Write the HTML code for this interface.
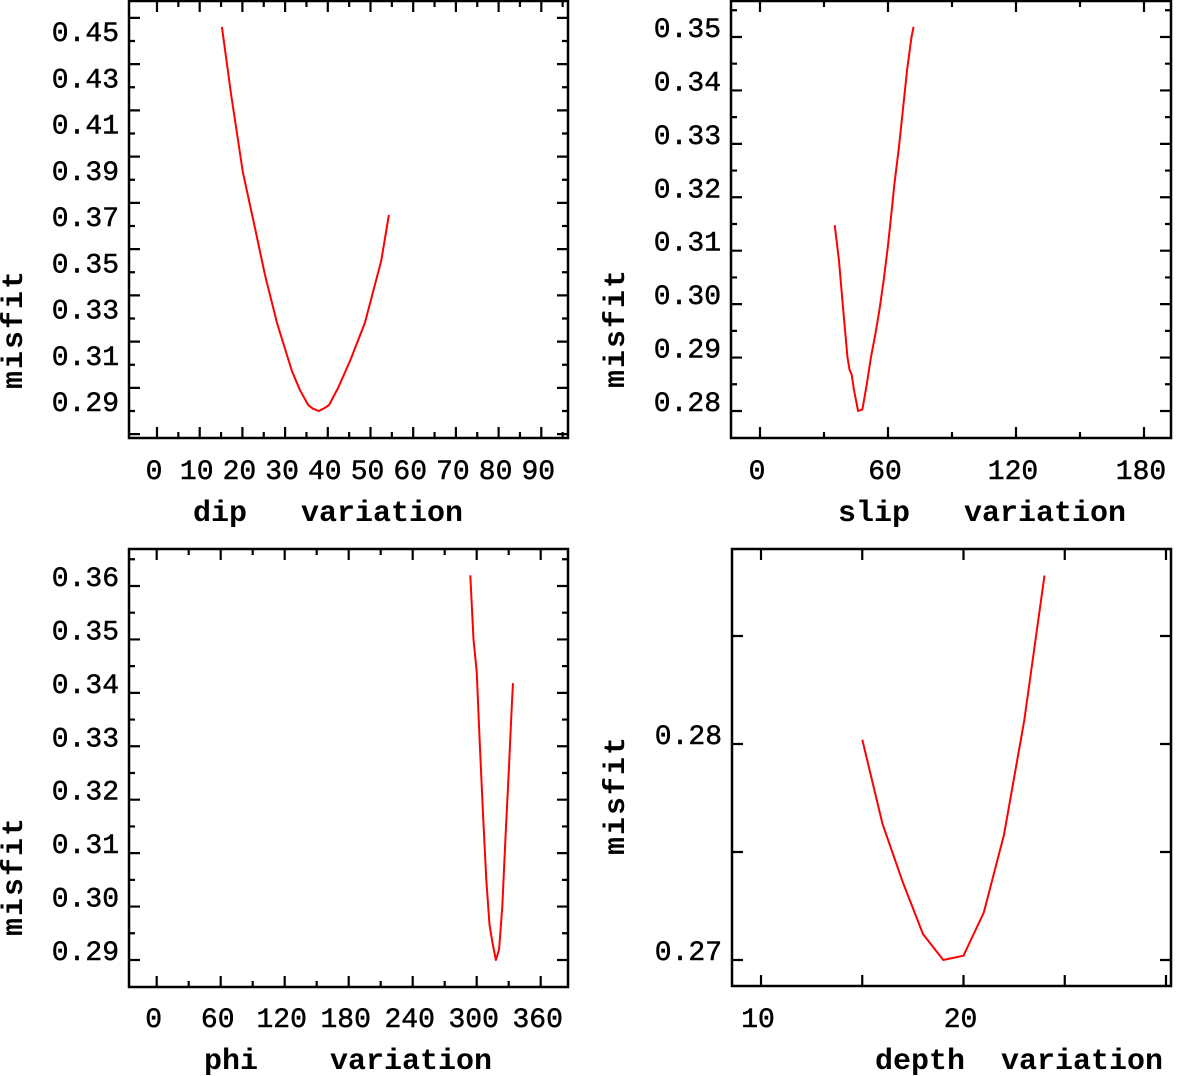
<!DOCTYPE html>
<html><head><meta charset="utf-8"><style>
body{margin:0;background:#fff;}
svg{display:block;}
text{font-family:"Liberation Mono","DejaVu Sans Mono",monospace;fill:#000;white-space:pre;}
</style></head><body>
<svg id="chart" width="1183" height="1076" viewBox="0 0 1183 1076" xmlns="http://www.w3.org/2000/svg"></svg>
<script>
const dipX=[15.2,17.3,20.1,22.7,25.3,28.1,31.6,33.5,35.4,36.5,37.9,39.2,40.3,42.4,45.2,48.7,52.5,54.3];
const dipY=[0.4561,0.4275,0.3934,0.3713,0.3488,0.3281,0.3073,0.2990,0.2926,0.2910,0.2900,0.2912,0.2926,0.2999,0.3116,0.3281,0.3549,0.3748];
const slipX=[35,37,39,41,42,43,44,46,48,50,52,54,56,58,60,62,63,65,67,69,71,72];
const slipY=[0.3148,0.3083,0.2990,0.2900,0.2877,0.2868,0.2840,0.2800,0.2803,0.2849,0.2900,0.2942,0.2990,0.3045,0.3110,0.3186,0.3225,0.3290,0.3364,0.3440,0.3500,0.3519];
const phiX=[294,297,300,303,306,309,312,315,318,321,324,327,330,333,334];
const phiY=[0.3620,0.3500,0.3440,0.3300,0.3170,0.3050,0.2966,0.2930,0.2900,0.2920,0.3000,0.3130,0.3250,0.3380,0.3418];
const depthX=[15,16,17,18,19,20,21,22,23,24];
const depthY=[0.2802,0.2763,0.2736,0.2712,0.2700,0.2702,0.2722,0.2758,0.2811,0.2878];

const dipTicks=[0,10,20,30,40,50,60,70,80,90];
const slipTicks=[0,60,120,180];
const phiTicks=[0,60,120,180,240,300,360];
const depthTicks=[10,20];

const NS="http://www.w3.org/2000/svg";
const svg=document.getElementById('chart');
function mk(tag,attrs,parent){const e=document.createElementNS(NS,tag);for(const k in attrs)e.setAttribute(k,attrs[k]);(parent||svg).appendChild(e);return e;}

function panel(cfg){
  const g=mk('g',{});
  
  
  const sx=v=>cfg.x0+(v-cfg.xv0)*cfg.xs;
  const sy=v=>cfg.y0-(v-cfg.yv0)*cfg.ys;
  const L=cfg.left,R=cfg.right,T=cfg.top,B=cfg.bottom;
  const fr=mk('rect',{x:L,y:T,width:R-L,height:B-T,fill:'none',stroke:'#000','stroke-width':2.5},g);
  
  
  let d='';
  for(let v=cfg.xmin;v<=cfg.xmax+1e-9;v+=cfg.xminor){
    const x=sx(v); if(x<L+1||x>R-1)continue;
    const major=Math.abs(Math.round(v/cfg.xmajor)*cfg.xmajor-v)<1e-6;
    const len=major?11:6;
    d+=`M${x} ${B}V${B-len}M${x} ${T}V${T+len}`;
  }
  for(let v=cfg.ymin;v<=cfg.ymax+1e-9;v+=cfg.yminor){
    const y=sy(v); if(y<T+1||y>B-1)continue;
    const major=Math.abs(Math.round(v/cfg.ymajor)*cfg.ymajor-v)<1e-6;
    const len=major?11:6;
    d+=`M${L} ${y}H${L+len}M${R} ${y}H${R-len}`;
  }
  const tk=mk('path',{d:d,stroke:'#000','stroke-width':2.2,fill:'none'},g);
  
  
  cfg.xticks.forEach(v=>{
    const t=mk('text',{x:sx(v)-3,y:cfg.xlabY,'text-anchor':'middle','font-size':28,'stroke':'#000','stroke-width':0.5},g);
    t.textContent=v;
    
    
  });
  cfg.yticks.forEach(v=>{
    const t=mk('text',{x:L-10,y:sy(v),'text-anchor':'end','font-size':28,'stroke':'#000','stroke-width':0.5},g);
    t.textContent=v.toFixed(2);
    
    
  });
  const pts=cfg.xs_.map((v,i)=>sx(v).toFixed(1)+','+sy(cfg.ys_[i]).toFixed(1)).join(' ');
  const ln=mk('polyline',{points:pts,fill:'none',stroke:'#ff0000','stroke-width':2,'stroke-linejoin':'round'},g);
  
  
  const xt=mk('text',{x:cfg.xtX,y:cfg.xtY,'font-size':30,'font-weight':'bold'},g);
  xt.textContent=cfg.xtitle;
  
  
  const yt=mk('text',{x:0,y:0,'font-size':30,'font-weight':'bold','letter-spacing':'2','text-anchor':'middle',transform:`translate(${cfg.ytX},${cfg.ytY}) rotate(-90)`},g);
  yt.textContent='misfit';
  
  
}

panel({name:'dip',left:129,right:568,top:1,bottom:438,x0:157,xv0:0,xs:4.27,y0:411,yv0:0.29,ys:2312.5,
  xmin:0,xmax:95,xminor:5,xmajor:10,ymin:0.28,ymax:0.46,yminor:0.01,ymajor:0.02,
  xticks:dipTicks,yticks:[0.29,0.31,0.33,0.35,0.37,0.39,0.41,0.43,0.45],xlabY:479,
  xs_:dipX,ys_:dipY,xtitle:'dip   variation',xtX:193,xtY:521,ytX:22,ytY:329});
panel({name:'slip',left:731,right:1171,top:1,bottom:438,x0:760,xv0:0,xs:128/60,y0:411,yv0:0.28,ys:5343,
  xmin:0,xmax:195,xminor:30,xmajor:60,ymin:0.275,ymax:0.36,yminor:0.005,ymajor:0.01,
  xticks:slipTicks,yticks:[0.28,0.29,0.30,0.31,0.32,0.33,0.34,0.35],xlabY:479,
  xs_:slipX,ys_:slipY,xtitle:'slip   variation',xtX:838,xtY:521,ytX:624,ytY:328});
panel({name:'phi',left:129,right:568,top:549,bottom:987,x0:156.7,xv0:0,xs:64/60,y0:960,yv0:0.29,ys:5343,
  xmin:0,xmax:390,xminor:30,xmajor:60,ymin:0.285,ymax:0.37,yminor:0.005,ymajor:0.01,
  xticks:phiTicks,yticks:[0.29,0.30,0.31,0.32,0.33,0.34,0.35,0.36],xlabY:1027,
  xs_:phiX,ys_:phiY,xtitle:'phi    variation',xtX:204,xtY:1069,ytX:22,ytY:876});
panel({name:'depth',left:732,right:1171,top:549,bottom:986,x0:761,xv0:10,xs:20.25,y0:960,yv0:0.27,ys:21600,
  xmin:10,xmax:35,xminor:5,xmajor:5,ymin:0.265,ymax:0.295,yminor:0.005,ymajor:0.005,
  xticks:depthTicks,yticks:[0.27,0.28],xlabY:1027,
  xs_:depthX,ys_:depthY,xtitle:'depth  variation',xtX:875,xtY:1069,ytX:624,ytY:795});
</script>
</body></html>
